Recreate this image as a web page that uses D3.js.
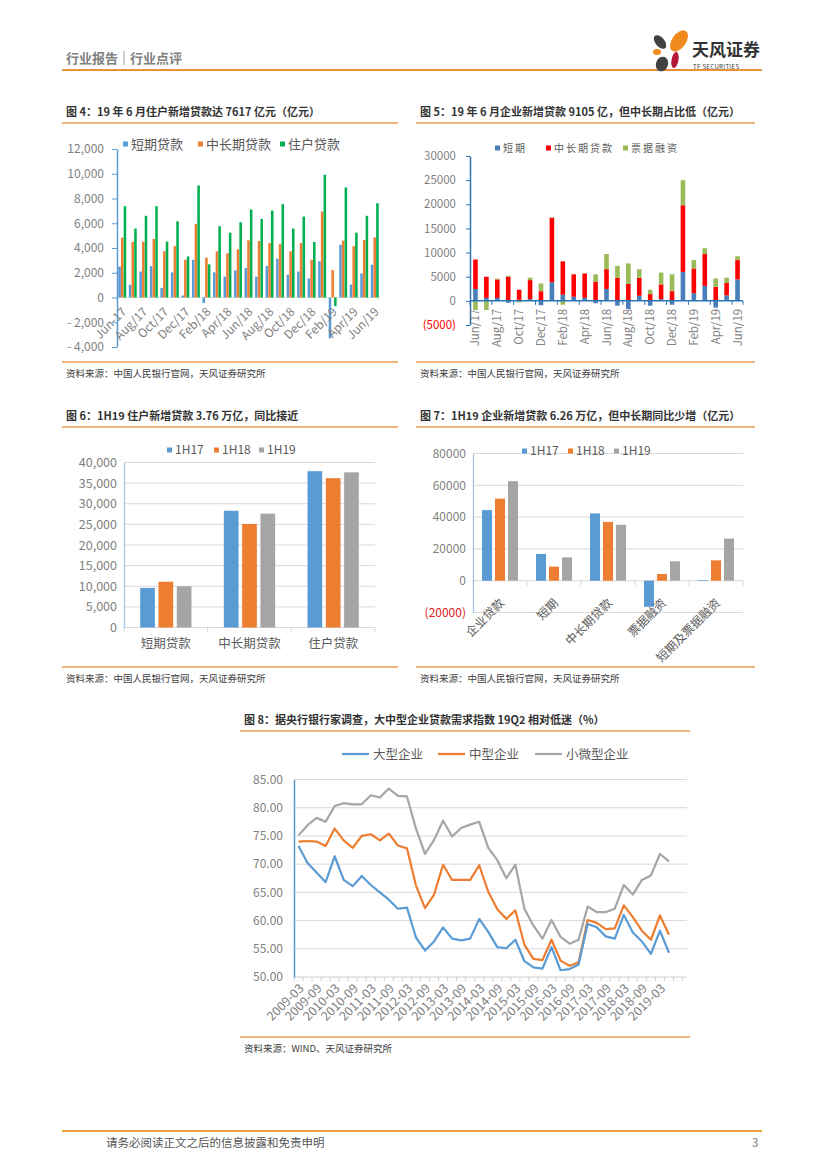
<!DOCTYPE html>
<html>
<head>
<meta charset="utf-8">
<title>行业点评</title>
<script src="https://cdn.jsdelivr.net/npm/d3@7"></script>
<style>
  body { margin: 0; background: #fff; }
  svg { display: block; }
  text { font-family: "Noto Sans CJK SC", "Liberation Sans", sans-serif; }
</style>
</head>
<body>
<svg id="page"></svg>
<script>
// ---------- data ----------
const months = ["Jun/17","Jul/17","Aug/17","Sep/17","Oct/17","Nov/17","Dec/17","Jan/18","Feb/18","Mar/18","Apr/18","May/18",
  "Jun/18","Jul/18","Aug/18","Sep/18","Oct/18","Nov/18","Dec/18","Jan/19","Feb/19","Mar/19","Apr/19","May/19","Jun/19"];
const labels4 = ["Jun-17","Aug/17","Oct/17","Dec/17","Feb/18","Apr/18","Jun/18","Aug/18","Oct/18","Dec/18","Feb/19","Apr/19","Jun/19"];
const labels5 = ["Jun/17","Aug/17","Oct/17","Dec/17","Feb/18","Apr/18","Jun/18","Aug/18","Oct/18","Dec/18","Feb/19","Apr/19","Jun/19"];

// 图4 住户贷款（亿元）
const keys4 = ["短期贷款","中长期贷款","住户贷款"];
const hhShort = [2500,1030,2100,2540,780,2030,160,3050,-450,2030,1680,2190,2380,1680,2540,3140,1840,2100,1540,2920,-3300,4270,1050,1950,2650];
const hhMid   = [4840,4490,4510,4730,3730,4140,3050,5950,3220,3730,3570,3890,4620,4570,4400,4320,3730,4400,3050,6950,2220,4600,4150,4650,4850];
const hhTotal = [7380,5570,6600,7380,4510,6160,3320,9050,2680,5760,5240,6080,7110,6350,7030,7540,5570,6540,4490,9920,-700,8890,5240,6600,7617];
const ticks4 = [-4000,-2000,0,2000,4000,6000,8000,10000,12000];

// 图5 企业贷款（亿元）
const keys5 = ["短期","中长期贷款","票据融资"];
const corpShort = [2460,600,600,-400,200,350,-900,3870,1270,850,630,-500,2460,-1000,-1700,1050,-1000,350,-800,6000,1600,3100,-1400,1130,4440];
const corpMid   = [6100,4400,3850,5000,2100,3950,2000,13300,6900,4650,5050,3950,4100,4800,3500,3750,1400,3050,2000,13800,5100,6600,2900,2570,4010];
const corpBill  = [-1900,-1900,150,200,-300,500,1600,100,-800,100,50,1550,3150,2450,4250,1750,900,2450,3500,5200,1750,1200,1750,1100,780];
const ticks5 = [-5000,0,5000,10000,15000,20000,25000,30000];

// 图6 上半年住户新增贷款
const cats6 = ["短期贷款","中长期贷款","住户贷款"];
const years = ["1H17","1H18","1H19"];
const hh1H17 = [9600,28300,37900];
const hh1H18 = [11100,25100,36200];
const hh1H19 = [10000,27600,37617];
const ticks6 = [0,5000,10000,15000,20000,25000,30000,35000,40000];

// 图7 上半年企业新增贷款
const cats7 = ["企业贷款","短期","中长期贷款","票据融资","短期及票据融资"];
const corp1H17 = [44400,16800,42300,-16400,400];
const corp1H18 = [51600,8840,37000,4200,12800];
const corp1H19 = [62600,14700,35150,12200,26500];
const ticks7 = [-20000,0,20000,40000,60000,80000];

// 图8 贷款需求指数（%）
const quarters = ["2009-03","2009-06","2009-09","2009-12","2010-03","2010-06","2010-09","2010-12","2011-03","2011-06","2011-09","2011-12",
  "2012-03","2012-06","2012-09","2012-12","2013-03","2013-06","2013-09","2013-12","2014-03","2014-06","2014-09","2014-12",
  "2015-03","2015-06","2015-09","2015-12","2016-03","2016-06","2016-09","2016-12","2017-03","2017-06","2017-09","2017-12",
  "2018-03","2018-06","2018-09","2018-12","2019-03","2019-06"];
const labels8 = ["2009-03","2009-09","2010-03","2010-09","2011-03","2011-09","2012-03","2012-09","2013-03","2013-09","2014-03",
  "2014-09","2015-03","2015-09","2016-03","2016-09","2017-03","2017-09","2018-03","2018-09","2019-03"];
const keys8 = ["大型企业","中型企业","小微型企业"];
const large  = [73.2,70.2,68.5,66.8,71.4,67.2,66.1,67.9,66.3,65.0,63.7,62.1,62.3,57.0,54.7,56.3,58.8,56.8,56.5,56.8,60.3,
  58.0,55.3,55.1,56.6,52.8,51.7,51.5,55.3,51.2,51.4,52.2,59.4,58.8,57.2,56.8,61.0,57.9,56.3,54.1,58.2,54.3];
const medium = [74.0,74.1,74.0,73.2,76.3,74.2,72.9,75.0,75.3,74.2,75.4,73.3,72.8,66.2,62.2,64.6,69.9,67.2,67.2,67.2,69.8,
  65.1,62.0,60.3,61.8,55.7,53.2,53.0,56.6,52.9,52.0,52.6,60.1,59.6,58.5,58.6,62.7,60.6,58.2,56.6,60.9,57.5];
const small  = [75.1,76.9,78.2,77.5,80.3,80.8,80.6,80.6,82.2,81.8,83.4,82.1,82.0,76.3,71.8,74.3,77.7,74.9,76.4,77.0,77.5,
  72.9,70.7,67.5,69.9,62.1,59.1,56.8,60.1,57.1,55.9,56.6,62.5,61.5,61.5,62.1,66.3,64.6,67.2,68.0,71.8,70.5];
const ticks8 = [50,55,60,65,70,75,80,85];

// ---------- page ----------
const NUM = "'Liberation Sans', Arial, sans-serif";
const GRAY = "#7f7f7f";
const ORANGE = "#EE9B4D";
const svg = d3.select("#page").attr("width", 827).attr("height", 1170);
svg.append("rect").attr("width", 827).attr("height", 1170).attr("fill", "#fff");

// header
svg.append("text").attr("x", 66).attr("y", 63).attr("font-size", 13).attr("font-weight", "bold").attr("fill", "#808080").text("行业报告");
svg.append("line").attr("x1", 124).attr("x2", 124).attr("y1", 51).attr("y2", 65).attr("stroke", "#999");
svg.append("text").attr("x", 130).attr("y", 63).attr("font-size", 13).attr("font-weight", "bold").attr("fill", "#808080").text("行业点评");
svg.append("line").attr("x1", 62).attr("x2", 762).attr("y1", 70).attr("y2", 70).attr("stroke", "#E8913A").attr("stroke-width", 2);

// logo
const logo = svg.append("g");
const petals = [
  {cx: 660, cy: 42, rx: 4.5, ry: 8, r: -40, c: "#404040"},
  {cx: 679, cy: 41, rx: 7, ry: 12, r: 35, c: "#F08A1E"},
  {cx: 657, cy: 52, rx: 4, ry: 3, r: 0, c: "#F08A1E"},
  {cx: 675, cy: 60, rx: 3.5, ry: 8, r: 10, c: "#B5173A"},
  {cx: 662, cy: 64, rx: 6, ry: 7.5, r: 20, c: "#404040"}
];
logo.selectAll("ellipse").data(petals).join("ellipse")
  .attr("cx", 0).attr("cy", 0).attr("rx", d => d.rx).attr("ry", d => d.ry)
  .attr("transform", d => `translate(${d.cx},${d.cy}) rotate(${d.r})`)
  .attr("fill", d => d.c);
svg.append("text").attr("x", 692).attr("y", 56).attr("font-size", 17).attr("font-weight", "bold").attr("fill", "#333").text("天风证券");
svg.append("text").attr("x", 693).attr("y", 68.5).attr("font-size", 6).attr("fill", "#333").attr("font-family", NUM)
  .attr("textLength", 46).text("TF SECURITIES");

// footer
svg.append("line").attr("x1", 62).attr("x2", 762).attr("y1", 1131).attr("y2", 1131).attr("stroke", "#E8A33A").attr("stroke-width", 2);
svg.append("text").attr("x", 106).attr("y", 1147).attr("font-size", 11.5).attr("fill", "#555").text("请务必阅读正文之后的信息披露和免责申明");
svg.append("text").attr("x", 752).attr("y", 1147).attr("font-size", 11.5).attr("fill", "#777").attr("font-family", NUM).text("3");

// title + source frame for each figure
function frame(x0, x1, ty, title, by, source) {
  svg.append("text").attr("x", x0 + 4).attr("y", ty).attr("font-size", 11).attr("font-weight", "bold").attr("fill", "#333").text(title);
  svg.append("line").attr("x1", x0).attr("x2", x1).attr("y1", ty + 7).attr("y2", ty + 7).attr("stroke", ORANGE).attr("stroke-width", 1.5);
  svg.append("line").attr("x1", x0).attr("x2", x1).attr("y1", by).attr("y2", by).attr("stroke", ORANGE).attr("stroke-width", 1.5);
  svg.append("text").attr("x", x0 + 4).attr("y", by + 15).attr("font-size", 9.5).attr("fill", "#404040").text(source);
}
const SRC = "资料来源：中国人民银行官网，天风证券研究所";
frame(62, 398, 116, "图 4：19 年 6 月住户新增贷款达 7617 亿元（亿元）", 362, SRC);
frame(416, 755, 116, "图 5：19 年 6 月企业新增贷款 9105 亿，但中长期占比低（亿元）", 362, SRC);
frame(62, 398, 420, "图 6：1H19 住户新增贷款 3.76 万亿，同比接近", 667, SRC);
frame(416, 755, 420, "图 7：1H19 企业新增贷款 6.26 万亿，但中长期同比少增（亿元）", 667, SRC);
frame(240, 690, 724, "图 8：据央行银行家调查，大中型企业贷款需求指数 19Q2 相对低迷（%）", 1037, "资料来源：WIND、天风证券研究所");

function styleAxisText(a, size) {
  a.selectAll("text").attr("fill", GRAY).attr("font-size", size).attr("font-family", NUM);
}
function legendSquares(g, items, xs, y, size, fontSize, colors, spacing) {
  items.forEach((t, i) => {
    g.append("rect").attr("x", xs[i]).attr("y", y - size / 2).attr("width", size).attr("height", size).attr("fill", colors[i]);
    g.append("text").attr("x", xs[i] + size + 3).attr("y", y).attr("dy", "0.36em").attr("font-size", fontSize)
      .attr("letter-spacing", spacing || 0).attr("fill", "#595959").text(t);
  });
}

// ---------- 图4 ----------
{
  const g = svg.append("g");
  const colors = ["#5B9BD5", "#ED7D31", "#00B050"];
  const x = d3.scaleBand().domain(months).range([117, 380]);
  const y = d3.scaleLinear().domain([-4000, 12000]).range([347, 149]);
  const sub = d3.scaleBand().domain(keys4).range([1.3, x.bandwidth() - 1.3]).paddingInner(0.05);
  const rows = months.map((m, i) => ({m, v: [hhShort[i], hhMid[i], hhTotal[i]]}));

  g.append("line").attr("x1", 117).attr("x2", 380).attr("y1", y(0)).attr("y2", y(0)).attr("stroke", "#D9E8D0");
  g.selectAll("g.grp").data(rows).join("g").attr("class", "grp")
    .attr("transform", d => `translate(${x(d.m)},0)`)
    .selectAll("rect").data(d => d.v.map((v, k) => ({k: keys4[k], v}))).join("rect")
    .attr("x", d => sub(d.k)).attr("width", sub.bandwidth())
    .attr("y", d => y(Math.max(0, d.v))).attr("height", d => Math.abs(y(d.v) - y(0)))
    .attr("fill", (d, i) => colors[i]);

  g.append("g").attr("transform", "translate(117,0)")
    .call(d3.axisLeft(y).tickValues(ticks4).tickSize(5).tickSizeOuter(0).tickPadding(8)
      .tickFormat(d => d < 0 ? "- " + d3.format(",")(-d) : d3.format(",")(d)))
    .call(a => {
      a.select(".domain").attr("stroke", "#5B9BD5").attr("stroke-width", 1.5);
      a.selectAll(".tick line").attr("stroke", "#5B9BD5");
      styleAxisText(a, 12);
    });

  const even = months.filter((m, i) => i % 2 === 0);
  g.append("g").attr("transform", `translate(0,${y(0)})`)
    .call(d3.axisBottom(x).tickValues(even).tickSize(0).tickFormat(m => labels4[even.indexOf(m)]))
    .call(a => {
      a.select(".domain").remove();
      styleAxisText(a, 12);
      a.selectAll("text").attr("x", 0).attr("y", 0).attr("dy", "0.35em").attr("text-anchor", "end")
        .attr("transform", "translate(2,12) rotate(-45)");
    });

  legendSquares(g, keys4, [123, 198, 280], 144, 5, 13, colors);
}

// ---------- 图5 ----------
{
  const g = svg.append("g");
  const colors = ["#4A7EBB", "#FF0000", "#9BBB59"];
  const x = d3.scaleBand().domain(months).range([470, 743]);
  const y = d3.scaleLinear().domain([-5000, 30000]).range([325, 156]);
  const rows = months.map((m, i) => ({m, "短期": corpShort[i], "中长期贷款": corpMid[i], "票据融资": corpBill[i]}));
  const series = d3.stack().keys(keys5).offset(d3.stackOffsetDiverging)(rows);
  const bw = 4.6;

  g.selectAll("g.s").data(series).join("g").attr("class", "s").attr("fill", (d, i) => colors[i])
    .selectAll("rect").data(d => d).join("rect")
    .attr("x", d => x(d.data.m) + (x.bandwidth() - bw) / 2).attr("width", bw)
    .attr("y", d => y(d[1])).attr("height", d => Math.max(0, y(d[0]) - y(d[1])));

  g.append("g").attr("transform", "translate(470,0)")
    .call(d3.axisLeft(y).tickValues(ticks5).tickSize(4).tickSizeOuter(0).tickPadding(10)
      .tickFormat(d => d < 0 ? `(${-d})` : d))
    .call(a => {
      a.select(".domain").attr("stroke", "#2E75B6").attr("stroke-width", 1.5);
      a.selectAll(".tick line").attr("stroke", "#2E75B6");
      styleAxisText(a, 11.5);
      a.selectAll(".tick text").filter(d => d < 0).attr("fill", "#FF0000");
    });

  // horizontal zero axis with ticks every two months
  g.append("line").attr("x1", 470).attr("x2", 743).attr("y1", y(0)).attr("y2", y(0)).attr("stroke", "#2E75B6").attr("stroke-width", 1.5);
  const even = months.filter((m, i) => i % 2 === 0);
  g.selectAll("line.tk").data(even.concat(["end"])).join("line").attr("class", "tk")
    .attr("x1", m => m === "end" ? 743 : x(m)).attr("x2", m => m === "end" ? 743 : x(m))
    .attr("y1", y(0)).attr("y2", y(0) + 4).attr("stroke", "#2E75B6");

  g.append("g").attr("transform", `translate(0,${y(0)})`)
    .call(d3.axisBottom(x).tickValues(even).tickSize(0).tickFormat(m => labels5[even.indexOf(m)]))
    .call(a => {
      a.select(".domain").remove();
      styleAxisText(a, 11.5);
      a.selectAll("text").attr("x", 0).attr("y", 0).attr("dy", "0.35em").attr("text-anchor", "end")
        .attr("transform", "translate(0,8) rotate(-90)");
    });

  legendSquares(g, keys5, [495, 546, 623], 148, 5, 10, colors, 2);
}

// ---------- 图6 / 图7 grouped bars ----------
function groupedChart(opt) {
  const g = svg.append("g");
  const colors = ["#5B9BD5", "#ED7D31", "#A5A5A5"];
  const x = d3.scaleBand().domain(opt.cats).range([opt.x0, opt.x1]);
  const y = d3.scaleLinear().domain(opt.domain).range([opt.yb, opt.yt]);
  const groupW = 3 * opt.bw + 2 * opt.gap;
  const sub = d3.scaleBand().domain(years)
    .range([(x.bandwidth() - groupW) / 2, (x.bandwidth() + groupW) / 2]).paddingInner(opt.gap / (opt.bw + opt.gap));

  g.selectAll("line.grid").data(opt.ticks).join("line").attr("class", "grid")
    .attr("x1", opt.x0).attr("x2", opt.x1).attr("y1", d => y(d)).attr("y2", d => y(d))
    .attr("stroke", "#D9D9D9");

  const rows = opt.cats.map((c, i) => ({c, v: opt.values.map(s => s[i])}));
  g.selectAll("g.grp").data(rows).join("g").attr("class", "grp")
    .attr("transform", d => `translate(${x(d.c)},0)`)
    .selectAll("rect").data(d => d.v.map((v, k) => ({k: years[k], v}))).join("rect")
    .attr("x", d => sub(d.k)).attr("width", sub.bandwidth())
    .attr("y", d => y(Math.max(0, d.v))).attr("height", d => Math.abs(y(d.v) - y(0)))
    .attr("fill", (d, i) => colors[i]);

  // category boundary ticks on zero line
  g.selectAll("line.tk").data(opt.cats.concat(["end"])).join("line").attr("class", "tk")
    .attr("x1", c => c === "end" ? opt.x1 : x(c)).attr("x2", c => c === "end" ? opt.x1 : x(c))
    .attr("y1", y(0)).attr("y2", y(0) + 5).attr("stroke", "#D9D9D9");

  g.append("g").attr("transform", `translate(${opt.x0},0)`)
    .call(d3.axisLeft(y).tickValues(opt.ticks).tickSize(0).tickPadding(7).tickFormat(opt.fmt))
    .call(a => {
      a.select(".domain").attr("stroke", "#9DC3E6").attr("stroke-width", 1.2);
      styleAxisText(a, opt.tickFont);
      a.selectAll(".tick text").filter(d => d < 0).attr("fill", "#E02020");
    });

  legendSquares(g, years, opt.legendX, opt.legendY, 5, 12, colors);
  return {g, x, y};
}

{
  const c = groupedChart({
    cats: cats6, values: [hh1H17, hh1H18, hh1H19], x0: 124, x1: 375, yb: 627.5, yt: 462.5,
    domain: [0, 40000], ticks: ticks6, bw: 14.7, gap: 3.6, tickFont: 12.5,
    fmt: d3.format(","), legendX: [167, 214, 259], legendY: 450
  });
  c.g.selectAll("text.cat").data(cats6).join("text").attr("class", "cat")
    .attr("x", d => c.x(d) + c.x.bandwidth() / 2).attr("y", 648).attr("text-anchor", "middle")
    .attr("font-size", 12.5).attr("fill", "#595959").text(d => d);
}

{
  const c = groupedChart({
    cats: cats7, values: [corp1H17, corp1H18, corp1H19], x0: 473, x1: 743, yb: 612.5, yt: 453.5,
    domain: [-20000, 80000], ticks: ticks7, bw: 10, gap: 3, tickFont: 12,
    fmt: d => d < 0 ? `(${-d})` : d, legendX: [522, 568, 614], legendY: 451
  });
  c.g.selectAll("text.cat").data(cats7).join("text").attr("class", "cat")
    .attr("text-anchor", "end").attr("dy", "0.35em")
    .attr("transform", d => `translate(${c.x(d) + c.x.bandwidth() / 2 + 2},${c.y(0) + 20}) rotate(-45)`)
    .attr("font-size", 12).attr("fill", "#595959").text(d => d);
}

// ---------- 图8 ----------
{
  const g = svg.append("g");
  const colors = ["#5B9BD5", "#ED7D31", "#A5A5A5"];
  const x = d3.scaleBand().domain(quarters).range([294, 673.5]);
  const y = d3.scaleLinear().domain([50, 85]).range([977, 779.5]);

  g.selectAll("line.grid").data(ticks8.slice(1)).join("line").attr("class", "grid")
    .attr("x1", 294).attr("x2", 687).attr("y1", d => y(d)).attr("y2", d => y(d)).attr("stroke", "#D9D9D9");
  g.append("line").attr("x1", 294).attr("x2", 687).attr("y1", y(50)).attr("y2", y(50)).attr("stroke", "#D0D0D0");
  g.selectAll("line.tk").data(d3.range(0, 44)).join("line").attr("class", "tk")
    .attr("x1", i => 294 + i * x.bandwidth()).attr("x2", i => 294 + i * x.bandwidth())
    .attr("y1", y(50)).attr("y2", y(50) + 4).attr("stroke", "#D0D0D0");

  const line = d3.line().x((v, i) => x(quarters[i]) + x.bandwidth() / 2).y(v => y(v));
  [small, medium, large].forEach((s, k) => {
    g.append("path").attr("d", line(s)).attr("fill", "none")
      .attr("stroke", colors[2 - k]).attr("stroke-width", 2.2).attr("stroke-linejoin", "round");
  });

  g.append("g").attr("transform", "translate(294,0)")
    .call(d3.axisLeft(y).tickValues(ticks8).tickSize(0).tickPadding(11).tickFormat(d3.format(".2f")))
    .call(a => {
      a.select(".domain").attr("stroke", "#5B9BD5").attr("stroke-width", 1.5);
      styleAxisText(a, 12);
    });

  g.append("g").attr("transform", `translate(0,${y(50)})`)
    .call(d3.axisBottom(x).tickValues(labels8).tickSize(0))
    .call(a => {
      a.select(".domain").remove();
      styleAxisText(a, 12.5);
      a.selectAll("text").attr("x", 0).attr("y", 0).attr("dy", "0.35em").attr("text-anchor", "end")
        .attr("transform", "translate(3,9) rotate(-45)");
    });

  const lx = [342, 438, 535];
  keys8.forEach((t, i) => {
    g.append("line").attr("x1", lx[i]).attr("x2", lx[i] + 27).attr("y1", 754).attr("y2", 754)
      .attr("stroke", colors[i]).attr("stroke-width", 2.2);
    g.append("text").attr("x", lx[i] + 31).attr("y", 754).attr("dy", "0.36em").attr("font-size", 12.5)
      .attr("fill", "#595959").text(t);
  });
}
</script>
</body>
</html>
